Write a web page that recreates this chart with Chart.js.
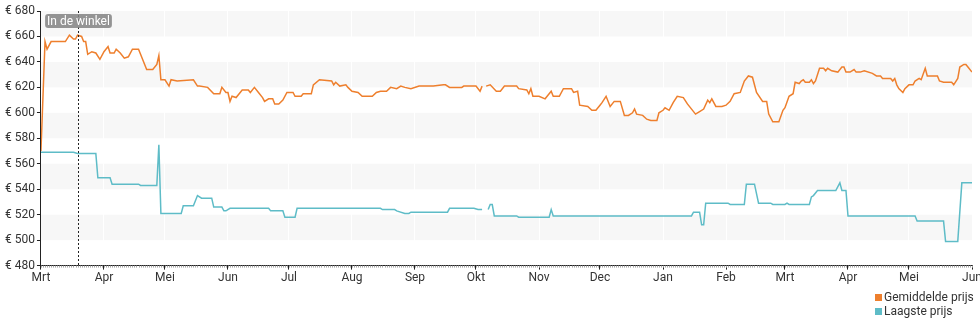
<!DOCTYPE html>
<html>
<head>
<meta charset="utf-8">
<script src="https://cdn.jsdelivr.net/npm/chart.js@4.4.1/dist/chart.umd.min.js"></script>
<style>
  html, body { margin: 0; padding: 0; background: #fff; }
  #wrap { position: relative; width: 980px; height: 325px; }
  #legend { position: absolute; left: 875px; top: 290px; font: 12px Roboto, sans-serif; color: #333; }
  #legend .item { display: flex; align-items: center; height: 14px; white-space: nowrap; }
  #legend .box { display: inline-block; width: 7px; height: 7px; margin-right: 2px; }
</style>
</head>
<body>
<div id="wrap">
  <canvas id="prijsChart"></canvas>
  <div id="legend"></div>
</div>
<script>
// periode van de grafiek
const startDate = '2023-03-01';
const endDate = '2024-06-01';
const monthLabels = ['Jan', 'Feb', 'Mrt', 'Apr', 'Mei', 'Jun', 'Jul', 'Aug', 'Sep', 'Okt', 'Nov', 'Dec'];
const yTicks = [480, 500, 520, 540, 560, 580, 600, 620, 640, 660, 680];

// "In de winkel" marker (dagen vanaf startDate)
const storeLabel = 'In de winkel';
const storeDay = 18;

// Gemiddelde prijs: dag vanaf startDate + prijs
const avgDays = [0, 2, 3, 5, 8, 12, 14, 16, 17, 18, 20, 21, 22, 23, 25, 27, 29, 31, 33, 34, 36, 37, 39, 41, 43, 45, 48, 49,
  52, 55, 57, 58, 59, 61, 63, 64, 67, 75, 77, 78, 82, 85, 88, 89, 91, 92, 93, 94, 96, 99, 102, 103, 105, 107, 109, 110,
  112, 114, 115, 117, 119, 121, 124, 125, 128, 129, 133, 134, 137, 143, 144, 145, 147, 150, 151, 153, 156, 158, 163,
  165, 167, 170, 172, 175, 177, 179, 182, 186, 193, 198, 199, 201, 207, 208, 214, 216, 217, 218, 219, 221, 224, 226,
  228, 234, 235, 239, 240, 241, 242, 245, 248, 249, 251, 252, 255, 257, 261, 262, 264, 265, 269, 271, 273, 275, 276,
  278, 280, 282, 285, 287, 289, 291, 292, 293, 296, 298, 300, 303, 304, 306, 307, 309, 311, 313, 316, 318, 322, 324,
  326, 328, 329, 330, 332, 335, 337, 339, 341, 344, 346, 348, 350, 352, 355, 357, 358, 360, 363, 365, 366, 368, 370,
  371, 373, 374, 375, 376, 378, 379, 380, 381, 383, 385, 386, 387, 389, 392, 394, 395, 396, 398, 400, 401, 403, 405,
  409, 411, 413, 414, 418, 419, 420, 421, 422, 424, 425, 427, 429, 430, 432, 433, 435, 436, 439, 441, 442, 444, 448,
  449, 451, 452, 454, 455, 456, 458];
const avgPrices = [570, 656, 650, 656, 656, 656, 661, 658, 658, 661, 660, 656, 656, 646, 648, 647, 642, 648, 652, 647, 647, 650, 647, 643, 644, 650, 650, 646,
  634, 634, 638, 645, 626, 626, 621, 626, 625, 626, 621, 621, 620, 615, 615, 620, 616, 616, 609, 613, 612, 618, 618, 616, 620, 616, 612, 609,
  611, 611, 607, 607, 610, 616, 616, 613, 613, 615, 615, 622, 626, 625, 622, 624, 621, 622, 620, 617, 616, 613, 613,
  616, 617, 617, 620, 619, 621, 620, 619, 621, 621, 622, 622, 620, 620, 621, 621, 617, 621, null, 621, 622, 617, 617,
  621, 621, 619, 618, 615, 619, 613, 613, 611, 613, 617, 613, 613, 619, 619, 616, 617, 606, 605, 602, 602, 606, 608,
  613, 605, 609, 609, 598, 598, 600, 603, 599, 598, 595, 594, 594, 600, 602, 604, 602, 608, 613, 612, 607, 599, 601,
  603, 610, 608, 611, 605, 605, 606, 609, 615, 616, 625, 629, 628, 616, 609, 609, 599, 593, 593, 602, 604, 613, 615,
  624, 623, 625, 626, 624, 624, 626, 623, 625, 635, 635, 633, 635, 633, 632, 636, 636, 632, 632, 634, 632, 632, 633,
  631, 629, 629, 627, 627, 625, 627, 622, 619, 616, 619, 622, 622, 625, 627, 626, 635, 629, 629, 629, 625, 624, 624,
  622, 627, 636, 638, 638, 636, 632];

// Laagste prijs: dag vanaf startDate + prijs
const lowDays = [0, 16, 18, 27, 28, 34, 35, 48, 49, 57, 58, 59, 69, 70, 75, 77, 79, 84, 85, 89, 90, 91, 93, 112, 113, 119,
  120, 125, 126, 167, 168, 174, 175, 179, 181, 182, 200, 201, 213, 215, 217, 218, 220, 221, 222, 223, 234, 235, 250,
  251, 252, 320, 321, 324, 325, 326, 327, 338, 339, 346, 347, 351, 353, 359, 360, 366, 367, 368, 378, 379, 380, 382,
  391, 393, 394, 396, 397, 430, 431, 444, 445, 451, 453, 458];
const lowPrices = [569, 569, 568, 568, 549, 549, 544, 544, 543, 543, 575, 521, 521, 527, 527, 535, 533, 533, 526, 526, 523, 523, 525, 525, 523, 523,
  518, 518, 525, 525, 524, 524, 523, 521, 521, 522, 522, 525, 525, 524, 524, null, 524, 528, 528, 519, 519, 518, 518,
  524, 519, 519, 522, 522, 512, 512, 529, 529, 528, 528, 544, 544, 529, 529, 528, 528, 529, 528, 528, 534, 535, 539,
  539, 545, 539, 539, 519, 519, 515, 515, 499, 499, 545, 545];

const DAY = 86400000;
const start = Date.parse(startDate);
const lastDay = Math.round((Date.parse(endDate) - start) / DAY);

// maandticks berekenen
const monthTicks = [];
const s = new Date(start);
for (let m = 0; ; m++) {
    const d = Date.UTC(s.getUTCFullYear(), s.getUTCMonth() + m, 1);
    const day = Math.round((d - start) / DAY);
    if (day > lastDay) break;
    monthTicks.push({ day: day, label: monthLabels[new Date(d).getUTCMonth()] });
}

function toPoints(days, prices) {
    return days.map((d, i) => ({ x: d, y: prices[i] }));
}

// grijze banden tussen de y-ticks
const bandPlugin = {
    id: 'bands',
    beforeDraw(chart) {
        const { ctx, chartArea, scales } = chart;
        ctx.save();
        ctx.fillStyle = '#f7f7f7';
        for (let i = yTicks.length - 1; i > 0; i -= 2) {
            const top = scales.y.getPixelForValue(yTicks[i]);
            const bottom = scales.y.getPixelForValue(yTicks[i - 1]);
            ctx.fillRect(chartArea.left, top, chartArea.right - chartArea.left, bottom - top);
        }
        ctx.restore();
    }
};

// kleine streepjes per dag onder de x-as + winkel marker
const extrasPlugin = {
    id: 'extras',
    afterDatasetsDraw(chart) {
        const { ctx, chartArea, scales } = chart;
        ctx.save();
        ctx.strokeStyle = '#aaa';
        ctx.lineWidth = 1;
        for (let d = 0; d <= lastDay; d++) {
            const x = Math.round(scales.x.getPixelForValue(d)) + 0.5;
            ctx.beginPath();
            ctx.moveTo(x, chartArea.bottom);
            ctx.lineTo(x, chartArea.bottom + 2);
            ctx.stroke();
        }

        const sx = Math.round(scales.x.getPixelForValue(storeDay)) + 0.5;
        ctx.strokeStyle = '#222';
        ctx.setLineDash([2, 2]);
        ctx.beginPath();
        ctx.moveTo(sx, chartArea.top);
        ctx.lineTo(sx, chartArea.bottom);
        ctx.stroke();
        ctx.setLineDash([]);

        ctx.font = '12px Roboto, sans-serif';
        const w = ctx.measureText(storeLabel).width + 4;
        const h = 14;
        const bx = sx - w / 2;
        const by = chartArea.top + 3;
        ctx.fillStyle = 'rgba(130,130,130,0.85)';
        ctx.beginPath();
        ctx.roundRect(bx, by, w, h, 3);
        ctx.fill();
        ctx.fillStyle = '#fff';
        ctx.textAlign = 'center';
        ctx.textBaseline = 'middle';
        ctx.fillText(storeLabel, sx, by + h / 2 + 1);
        ctx.restore();
    }
};

const chart = new Chart(document.getElementById('prijsChart'), {
    type: 'line',
    data: {
        datasets: [
            {
                label: 'Gemiddelde prijs',
                data: toPoints(avgDays, avgPrices),
                borderColor: '#ee7f2d',
                backgroundColor: '#ee7f2d',
                borderWidth: 1.5,
                pointRadius: 0,
                tension: 0,
                spanGaps: false
            },
            {
                label: 'Laagste prijs',
                data: toPoints(lowDays, lowPrices),
                borderColor: '#5ebcc7',
                backgroundColor: '#5ebcc7',
                borderWidth: 1.5,
                pointRadius: 0,
                tension: 0,
                spanGaps: false
            }
        ]
    },
    options: {
        responsive: true,
        maintainAspectRatio: false,
        animation: false,
        layout: { padding: { top: 11, right: 8, left: 3, bottom: 39 } },
        plugins: {
            legend: { display: false },
            tooltip: { enabled: false }
        },
        scales: {
            x: {
                type: 'linear',
                min: 0,
                max: lastDay,
                afterBuildTicks: (scale) => {
                    scale.ticks = monthTicks.map(t => ({ value: t.day }));
                },
                afterFit: (scale) => {
                    scale.paddingLeft = 0;
                    scale.paddingRight = 0;
                },
                ticks: {
                    autoSkip: false,
                    maxRotation: 0,
                    padding: 1,
                    color: '#333',
                    font: { family: 'Roboto', size: 12 },
                    callback: (value) => {
                        const t = monthTicks.find(m => m.day === value);
                        return t ? t.label : '';
                    }
                },
                grid: {
                    drawOnChartArea: true,
                    color: 'rgba(255,255,255,0.9)',
                    tickColor: '#222',
                    tickLength: 4
                },
                border: { display: true, color: '#222', width: 1 }
            },
            y: {
                min: yTicks[0],
                max: yTicks[yTicks.length - 1],
                afterBuildTicks: (scale) => {
                    scale.ticks = yTicks.map(v => ({ value: v }));
                },
                ticks: {
                    padding: 2,
                    color: '#333',
                    font: { family: 'Roboto', size: 12 },
                    callback: (value) => '€ ' + value
                },
                grid: {
                    drawOnChartArea: false,
                    tickColor: '#222',
                    tickLength: 4
                },
                border: { display: true, color: '#222', width: 1 }
            }
        }
    },
    plugins: [bandPlugin, extrasPlugin]
});

// legenda onder de grafiek
const legend = document.getElementById('legend');
chart.data.datasets.forEach(ds => {
    const item = document.createElement('div');
    item.className = 'item';
    const box = document.createElement('span');
    box.className = 'box';
    box.style.background = ds.borderColor;
    item.appendChild(box);
    item.appendChild(document.createTextNode(ds.label));
    legend.appendChild(item);
});
</script>
</body>
</html>
